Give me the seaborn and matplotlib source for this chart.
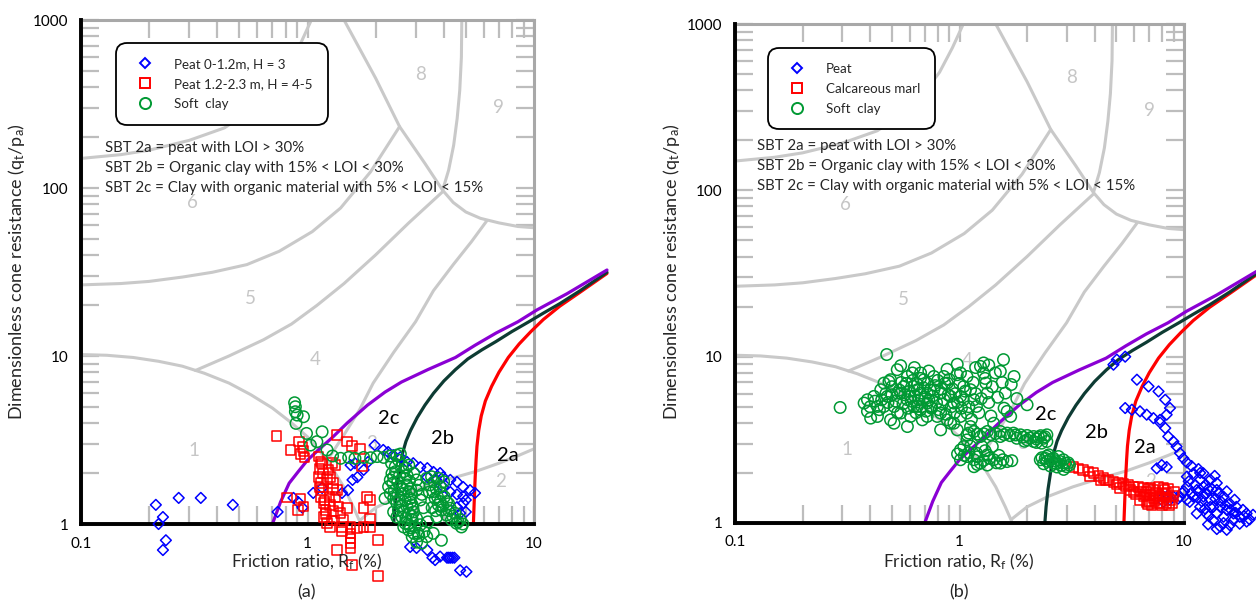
import numpy as np
import matplotlib
matplotlib.use("Agg")
import matplotlib.pyplot as plt
from matplotlib.lines import Line2D
from matplotlib.ticker import FixedLocator, LogLocator, NullFormatter, FuncFormatter
import seaborn as sns

sns.set_theme(style="white")
plt.rcParams["font.family"] = ["Lato", "DejaVu Sans"]
plt.rcParams["mathtext.default"] = "regular"

# ---------------------------------------------------------------------------
# Background SBT chart (Robertson, non-normalised): zone boundaries (Rf %, qt/pa)
zone1_rf = [0.1, 0.13, 0.17, 0.22, 0.28, 0.35, 0.45, 0.56, 0.7, 0.85, 1.0, 1.15, 1.3, 1.45, 1.6, 1.72]
zone1_q = [10.2, 10.1, 9.8, 9.3, 8.7, 7.9, 6.9, 5.9, 4.9, 4.0, 3.3, 2.65, 2.1, 1.65, 1.25, 1.0]
zone2_rf = [1.7, 2.0, 2.5, 3.2, 4.2, 5.5, 7.0, 8.5, 10.0]
zone2_q = [1.05, 1.25, 1.45, 1.65, 1.85, 2.05, 2.3, 2.55, 2.8]
b34_rf = [1.25, 1.45, 1.7, 1.95, 2.4, 3.0, 3.6, 4.4, 5.3, 6.2]
b34_q = [2.5, 3.4, 4.8, 6.9, 10.5, 16.0, 24.5, 35.0, 48.0, 64.0]
b45_rf = [0.32, 0.45, 0.64, 0.85, 1.1, 1.45, 2.0, 2.8, 3.95]
b45_q = [8.2, 10.0, 12.5, 15.5, 20.0, 27.0, 40.0, 62.0, 95.0]
b56_rf = [0.1, 0.15, 0.2, 0.28, 0.38, 0.54, 0.75, 1.05, 1.4, 1.9, 2.55]
b56_q = [26.5, 27.0, 27.8, 29.5, 31.5, 35.0, 42.0, 55.0, 76.0, 125.0, 232.0]
b67_rf = [0.1, 0.15, 0.2, 0.3, 0.43, 0.55, 0.68, 0.815, 0.93, 1.04]
b67_q = [150.0, 158.0, 168.0, 192.0, 228.0, 285.0, 370.0, 513.0, 720.0, 1000.0]
b8_rf = [1.45, 2.0, 2.55, 3.3, 3.95, 4.4, 5.0, 5.8, 7.0, 8.5, 10.0]
b8_q = [1000.0, 450.0, 232.0, 140.0, 97.0, 82.0, 72.0, 66.0, 62.0, 59.0, 58.0]
b89_rf = [4.8, 4.78, 4.7, 4.58, 4.42, 4.2, 3.95]
b89_q = [1000.0, 600.0, 380.0, 260.0, 180.0, 128.0, 97.0]

zone_names = ["1", "2", "3", "4", "5", "6", "8", "9"]
zone_rf = [0.315, 7.1, 1.92, 1.08, 0.56, 0.31, 3.15, 7.0]
zone_q = [2.75, 1.78, 3.0, 9.5, 22.0, 82.0, 475.0, 300.0]

# Organic-soil sub-zone boundaries 2a / 2b / 2c
sbt2c_rf = [0.70, 0.76, 0.83, 0.91, 1.0, 1.13, 1.28, 1.5, 1.84, 2.2, 2.6, 3.4, 4.5, 5.5, 6.8, 8.5, 10.3, 14.0, 21.0]
sbt2c_q = [1.0, 1.35, 1.75, 2.05, 2.4, 2.8, 3.25, 4.0, 5.1, 6.1, 7.0, 8.3, 9.8, 11.6, 13.7, 16.0, 18.8, 23.5, 32.5]
sbt2b_rf = [2.40, 2.43, 2.48, 2.55, 2.62, 2.72, 2.85, 3.05, 3.3, 3.6, 4.0, 4.5, 5.1, 5.9, 6.8, 8.0, 9.5, 11.0, 13.0, 16.0, 21.0]
sbt2b_q = [1.0, 1.25, 1.6, 2.05, 2.6, 3.1, 3.6, 4.3, 5.1, 6.0, 7.1, 8.3, 9.6, 10.9, 12.2, 14.0, 16.0, 18.0, 20.5, 24.5, 31.5]
sbt2a_rf = [5.4, 5.45, 5.5, 5.55, 5.6, 5.7, 5.85, 6.1, 6.5, 7.0, 7.7, 8.6, 9.7, 11.0, 13.0, 16.0, 21.0]
sbt2a_q = [1.0, 1.4, 1.9, 2.4, 2.9, 3.6, 4.4, 5.4, 6.6, 8.0, 9.8, 11.8, 14.0, 16.5, 19.8, 24.0, 31.0]

sub_labels = ["2c", "2b", "2a"]
sub_rf_a = [2.28, 3.93, 7.67]
sub_q_a = [4.27, 3.25, 2.57]
sub_rf_b = [2.41, 4.06, 6.7]
sub_q_b = [4.47, 3.48, 2.83]

sbt_notes = ["SBT 2a = peat with LOI > 30%",
             "SBT 2b = Organic clay with 15% < LOI < 30%",
             "SBT 2c = Clay with organic material with 5% < LOI < 15%"]

# ---------------------------------------------------------------------------
# (a) CPT data: (Rf %, qt/pa)
peat_top_a = [
    (0.214, 1.30), (0.23, 1.10), (0.22, 1.0), (0.237, 0.80), (0.23, 0.70), (0.27, 1.43),
    (0.338, 1.43), (0.468, 1.30), (0.738, 1.18), (0.867, 1.43), (0.95, 1.25), (0.91, 1.35),
    (1.06, 1.53), (1.16, 1.64), (1.42, 1.53), (1.51, 1.59), (1.58, 1.83), (1.66, 1.90),
    (1.55, 2.24), (1.62, 2.30), (1.77, 2.10), (1.85, 2.34), (1.98, 2.95), (2.16, 2.76),
    (2.27, 2.68), (2.39, 2.57), (2.57, 2.50), (2.75, 2.34), (2.93, 2.30), (3.15, 2.18),
    (3.38, 2.15), (3.60, 2.04), (3.85, 2.01), (3.97, 1.90), (4.27, 1.83), (4.57, 1.78),
    (4.87, 1.66), (5.22, 1.59), (5.49, 1.53), (3.38, 1.90), (3.70, 1.83), (3.97, 1.66),
    (4.27, 1.55), (4.57, 1.50), (4.87, 1.46), (5.0, 1.39), (4.87, 1.33), (4.57, 1.26),
    (5.0, 1.18), (4.72, 1.16), (2.84, 0.73), (3.03, 0.72), (3.38, 0.70), (3.56, 0.63),
    (3.66, 0.61), (3.85, 0.64), (4.13, 0.63), (4.20, 0.63), (4.27, 0.63), (4.36, 0.63),
    (4.45, 0.63), (4.72, 0.53), (5.03, 0.52)]
peat_deep_a = [
    (0.73, 3.34), (0.84, 2.76), (0.92, 3.09), (0.95, 2.88), (0.96, 2.73), (0.93, 2.61),
    (0.97, 2.49), (1.12, 2.52), (1.16, 2.29), (1.13, 2.12), (1.12, 1.91), (1.15, 1.75),
    (1.16, 1.59), (1.14, 1.45), (1.18, 1.33), (1.20, 1.21), (1.18, 1.10), (1.22, 1.01),
    (1.26, 0.96), (1.24, 2.10), (1.26, 1.91), (1.25, 1.45), (1.26, 1.30), (1.35, 3.39),
    (1.49, 3.09), (1.57, 2.91), (1.33, 2.24), (1.30, 1.75), (1.35, 1.59), (1.33, 1.45),
    (1.37, 1.27), (1.40, 1.16), (1.44, 1.06), (1.42, 0.96), (1.55, 0.96), (1.65, 0.94),
    (1.77, 0.96), (1.89, 0.96), (1.89, 1.39), (1.83, 1.45), (1.77, 1.24), (1.55, 0.88),
    (1.55, 0.82), (1.55, 0.77), (1.55, 0.72), (1.35, 0.70), (1.57, 0.57), (2.05, 0.80),
    (1.89, 1.08), (2.05, 0.49), (1.74, 2.21), (0.93, 1.42), (0.81, 1.44), (0.91, 1.21),
    (0.96, 1.27), (1.49, 1.24), (1.42, 0.90), (1.71, 2.80), (1.14, 2.35), (1.17, 2.00),
    (1.13, 1.65), (1.19, 1.38), (1.21, 1.15), (1.28, 1.05), (1.30, 1.20), (1.30, 1.62),
    (1.22, 1.85), (1.28, 2.30)]
clay_a = [
    (0.877, 5.27), (0.884, 4.99), (0.884, 4.66), (0.90, 4.45), (0.96, 4.35), (0.89, 3.97),
    (0.99, 3.46), (1.16, 3.54), (1.10, 3.09), (1.03, 2.95), (1.22, 2.76), (1.29, 2.54),
    (1.40, 2.46), (1.52, 2.49), (1.62, 2.46), (1.77, 2.49), (1.90, 2.48), (2.03, 2.52),
    (2.17, 2.49), (2.32, 2.54), (2.48, 2.57), (2.57, 2.61), (2.52, 2.40), (2.44, 2.19),
    (2.36, 2.0), (2.32, 1.83), (2.28, 1.67), (2.32, 1.52), (2.40, 1.42), (2.48, 1.33),
    (2.52, 1.21), (2.61, 1.10), (2.70, 1.01), (2.80, 0.92), (2.90, 0.84), (3.03, 0.78),
    (3.19, 0.77), (3.36, 0.84), (3.27, 0.90), (3.15, 0.99), (3.03, 1.08), (2.94, 1.18),
    (2.90, 1.30), (2.84, 1.42), (2.80, 1.56), (2.75, 1.71), (2.70, 1.87), (2.66, 2.05),
    (2.61, 2.24), (2.80, 2.24), (2.94, 2.0), (3.03, 1.83), (2.57, 1.67), (2.66, 1.52),
    (2.70, 1.39), (2.75, 1.27), (2.80, 1.16), (2.90, 1.06), (2.98, 0.96), (3.08, 0.88),
    (2.40, 1.18), (2.48, 1.10), (2.20, 1.42), (2.66, 0.96), (3.59, 0.88), (3.90, 0.80),
    (3.03, 1.59), (3.15, 1.39), (3.36, 1.87), (3.53, 1.91), (3.78, 1.87), (3.99, 1.79),
    (3.48, 1.71), (3.59, 1.56), (3.66, 1.42), (3.78, 1.30), (3.90, 1.21), (4.11, 1.13),
    (4.32, 1.06), (4.55, 1.01), (4.78, 0.96), (3.90, 1.52), (4.11, 1.36), (4.27, 1.24),
    (4.48, 1.16), (4.72, 1.06), (3.85, 1.67), (3.72, 1.10), (2.35, 2.30), (2.45, 2.05),
    (2.40, 1.90), (2.38, 1.75), (2.42, 1.58), (2.50, 1.48), (2.55, 1.38), (2.60, 1.28),
    (2.64, 1.18), (2.72, 1.08), (2.78, 1.00), (2.85, 0.95), (2.95, 0.88), (3.10, 0.85),
    (2.88, 1.12), (2.92, 1.24), (2.85, 1.35), (2.88, 1.50), (2.85, 1.62), (2.82, 1.80),
    (2.75, 1.95), (2.72, 2.15), (2.55, 1.95), (2.50, 1.78), (2.62, 1.62), (3.10, 1.70),
    (3.20, 1.50), (3.25, 1.25), (3.40, 1.03), (3.45, 1.55), (3.62, 1.78), (3.70, 1.62),
    (3.75, 1.45), (3.85, 1.36), (3.95, 1.28), (4.02, 1.45), (4.20, 1.20), (4.38, 1.11),
    (4.62, 1.03), (4.85, 1.00), (4.20, 1.32), (3.55, 1.25), (3.68, 1.20)]

# (b) CPT data: (Rf %, qt/pa)
peat_b = [
    (5.02, 9.6), (4.85, 8.95), (5.47, 10.0), (6.17, 7.27), (6.95, 6.62), (7.70, 6.18),
    (8.25, 5.51), (8.66, 4.91), (8.37, 4.48), (7.82, 4.17), (5.47, 4.91), (5.86, 4.80),
    (6.37, 4.69), (6.82, 4.48), (7.31, 4.27), (7.82, 4.02), (8.25, 3.72), (8.51, 3.31),
    (8.97, 3.09), (9.27, 2.88), (9.60, 2.63), (9.93, 2.45), (10.3, 2.31), (10.8, 2.20),
    (11.6, 2.11), (7.56, 2.13), (7.96, 2.23), (8.37, 2.17), (9.60, 1.44), (10.3, 1.90),
    (11.0, 1.99), (11.8, 1.82), (12.2, 1.65), (12.6, 1.51), (13.1, 1.38), (11.8, 1.25),
    (11.4, 1.14), (12.6, 1.14), (13.5, 1.25), (14.5, 1.25), (15.5, 1.20), (16.6, 1.14),
    (17.7, 1.09), (19.0, 1.14), (20.3, 1.12), (13.5, 1.04), (14.5, 0.95), (15.5, 0.91),
    (14.0, 1.58), (15.0, 1.44), (16.0, 1.31), (11.0, 1.44), (10.6, 1.34), (10.3, 1.65),
    (13.1, 1.82), (14.0, 1.74), (12.2, 1.99), (11.4, 1.58), (12.2, 1.44), (13.1, 1.25),
    (14.0, 1.14), (15.0, 1.09), (16.6, 1.04), (17.7, 0.99), (19.0, 1.02), (17.1, 1.25),
    (18.3, 1.20), (8.1, 1.44), (8.5, 1.47), (8.97, 1.44), (8.1, 1.34), (8.66, 1.38),
    (10.3, 1.38), (11.2, 1.70), (11.6, 1.55), (12.0, 1.35), (12.4, 1.22), (12.9, 1.10),
    (13.8, 1.40), (14.6, 1.35), (15.3, 1.28), (16.2, 1.20), (17.0, 1.15), (18.5, 1.10),
    (19.6, 1.05), (13.3, 1.60), (14.3, 1.50), (15.5, 1.55), (16.8, 1.38), (12.8, 0.98),
    (14.0, 0.92), (15.0, 1.00), (16.0, 0.97), (10.8, 1.52), (11.5, 1.42), (12.5, 1.70),
    (13.7, 1.92), (10.0, 1.55), (10.5, 1.78), (9.4, 1.40), (9.8, 1.52), (11.8, 2.00),
    (12.8, 1.60)]
marl_b = [
    (3.22, 2.18), (3.39, 2.13), (3.56, 2.09), (3.75, 2.04), (3.95, 1.99), (4.16, 1.92),
    (4.38, 1.86), (4.61, 1.82), (4.85, 1.77), (5.11, 1.75), (5.38, 1.72), (5.66, 1.69),
    (5.96, 1.66), (6.27, 1.64), (6.60, 1.62), (6.95, 1.60), (7.31, 1.58), (7.70, 1.66),
    (8.1, 1.62), (8.37, 1.51), (8.97, 1.45), (6.60, 1.44), (6.82, 1.34), (7.17, 1.28),
    (7.56, 1.31), (7.96, 1.28), (8.37, 1.31), (6.37, 1.38), (7.06, 1.47), (7.31, 1.41),
    (8.66, 1.38), (7.82, 1.44), (5.20, 1.62), (5.75, 1.58), (4.24, 1.82), (3.82, 1.90),
    (5.96, 1.54), (6.82, 1.54), (6.1, 1.50), (6.45, 1.55), (6.7, 1.48), (7.0, 1.36),
    (7.4, 1.36), (7.7, 1.40), (8.0, 1.50), (8.3, 1.42), (8.6, 1.28), (8.9, 1.32),
    (9.0, 1.55), (7.1, 1.62), (7.5, 1.52), (8.2, 1.58), (6.9, 1.30), (7.8, 1.32),
    (8.5, 1.60), (4.5, 1.80), (5.0, 1.70), (5.5, 1.66)]
clay_b = [
    (0.294, 4.95), (0.474, 10.3), (0.376, 5.26), (0.389, 4.69), (0.402, 4.27), (0.416, 5.77),
    (0.446, 6.33), (0.461, 5.02), (0.485, 7.10), (0.493, 4.17), (0.528, 8.35), (0.547, 8.83),
    (0.528, 6.04), (0.565, 6.62), (0.586, 5.51), (0.586, 3.80), (0.617, 7.98), (0.627, 6.62),
    (0.649, 5.02), (0.671, 6.04), (0.683, 4.17), (0.694, 7.27), (0.718, 5.26), (0.769, 7.60),
    (0.769, 6.33), (0.796, 4.37), (0.824, 3.63), (0.852, 5.51), (0.882, 6.94), (0.912, 3.98),
    (0.944, 5.26), (0.977, 7.79), (1.01, 7.98), (1.045, 6.62), (1.08, 7.60), (1.08, 4.58),
    (1.12, 3.80), (1.16, 5.51), (1.24, 8.74), (1.28, 7.98), (1.31, 6.94), (1.33, 6.04),
    (1.42, 3.98), (1.445, 7.98), (1.52, 8.16), (1.60, 6.04), (1.63, 4.69), (1.69, 4.37),
    (2.0, 5.14), (1.57, 9.6), (1.28, 9.17), (0.977, 9.0), (0.431, 5.02), (0.477, 5.77),
    (0.511, 5.02), (0.547, 4.58), (0.605, 4.37), (0.627, 5.02), (0.671, 4.80), (0.718, 4.37),
    (0.743, 5.02), (0.824, 4.58), (0.882, 4.17), (0.944, 3.98), (1.01, 4.37), (0.547, 6.04),
    (0.605, 5.77), (0.649, 6.33), (0.718, 6.04), (0.824, 6.04), (0.912, 5.77), (1.01, 5.77),
    (1.12, 6.33), (1.19, 5.02), (0.493, 7.27), (0.586, 7.60), (0.671, 7.98), (0.852, 7.60),
    (0.461, 6.94), (0.389, 5.51), (0.431, 4.37), (0.511, 3.98), (0.977, 3.63), (1.16, 3.55),
    (1.33, 3.55), (1.52, 3.55), (1.63, 3.47), (1.74, 3.47), (1.87, 3.39), (2.0, 3.36),
    (2.14, 3.31), (2.25, 3.28), (2.37, 3.23), (2.45, 3.39), (2.45, 3.09), (2.32, 3.02),
    (2.14, 3.09), (2.0, 3.16), (1.80, 3.23), (1.52, 3.31), (1.24, 3.31), (1.08, 3.39),
    (1.01, 2.75), (1.08, 2.51), (1.16, 2.40), (1.24, 2.29), (1.33, 2.23), (1.42, 2.40),
    (1.52, 2.29), (1.63, 2.34), (1.71, 2.37), (1.19, 2.63), (1.26, 2.88), (1.40, 2.88),
    (1.045, 2.88), (1.01, 2.40), (1.16, 2.18), (1.33, 2.57), (1.08, 3.16), (2.29, 2.40),
    (2.41, 2.45), (2.54, 2.40), (2.67, 2.37), (2.81, 2.34), (2.96, 2.29), (3.09, 2.23),
    (2.37, 2.27), (2.54, 2.20), (2.72, 2.17), (2.91, 2.10), (2.50, 2.57), (2.76, 2.51),
    (0.40, 5.0), (0.42, 5.4), (0.44, 4.8), (0.45, 5.5), (0.47, 6.0), (0.48, 5.3),
    (0.50, 5.9), (0.50, 6.6), (0.52, 5.4), (0.53, 4.6), (0.54, 6.3), (0.55, 7.0),
    (0.56, 5.2), (0.57, 5.9), (0.58, 6.9), (0.59, 4.9), (0.60, 6.2), (0.61, 5.4),
    (0.62, 7.2), (0.63, 5.8), (0.64, 4.6), (0.65, 6.8), (0.66, 5.5), (0.67, 7.4),
    (0.68, 5.0), (0.69, 6.5), (0.70, 5.7), (0.71, 4.7), (0.72, 6.9), (0.73, 5.5),
    (0.74, 6.3), (0.75, 4.9), (0.76, 5.8), (0.78, 6.7), (0.79, 5.3), (0.80, 7.2),
    (0.81, 4.8), (0.83, 6.4), (0.84, 5.2), (0.86, 6.9), (0.87, 4.5), (0.89, 5.9),
    (0.90, 7.3), (0.92, 5.0), (0.93, 6.4), (0.95, 4.6), (0.96, 6.0), (0.98, 5.3),
    (1.00, 6.9), (1.02, 4.9), (1.04, 5.5), (1.06, 6.2), (1.10, 5.0), (1.13, 4.2),
    (1.15, 7.0), (1.18, 6.0), (1.22, 4.6), (1.25, 5.6), (1.30, 7.4), (1.35, 5.3),
    (1.38, 4.4), (1.40, 6.6), (1.48, 5.7), (1.55, 7.0), (1.58, 4.9), (1.70, 6.8),
    (1.75, 7.6), (1.80, 5.6), (0.63, 8.6), (0.73, 8.2), (0.88, 8.4), (1.18, 8.6),
    (1.35, 8.9), (1.10, 3.47), (1.20, 3.42), (1.28, 3.44), (1.38, 3.40), (1.45, 3.45),
    (1.58, 3.40), (1.68, 3.35), (1.78, 3.38), (1.92, 3.28), (2.06, 3.25), (2.20, 3.20),
    (2.30, 3.35), (2.40, 3.30), (2.20, 3.05), (1.95, 3.10), (1.10, 2.65), (1.20, 2.50),
    (1.28, 2.38), (1.36, 2.45), (1.46, 2.30), (1.56, 2.40), (1.20, 2.25), (1.05, 2.55),
    (0.98, 2.60), (1.12, 2.90), (1.30, 2.72), (1.50, 2.55), (2.33, 2.47), (2.45, 2.35),
    (2.60, 2.30), (2.70, 2.27), (2.85, 2.22), (3.00, 2.18), (2.45, 2.52), (2.62, 2.45),
    (2.90, 2.40), (3.05, 2.30)]

legend_a = ["Peat 0-1.2m, H = 3", "Peat 1.2-2.3 m, H = 4-5", "Soft  clay"]
legend_b = ["Peat", "Calcareous marl", "Soft  clay"]

BLUE, RED, GREEN = "#0000ff", "#ff0000", "#009933"
GREY_LINE, GREY_TXT = "#c9c9c9", "#c6c6c6"
PURPLE, DARK, RED_LINE = "#8a00d4", "#0d3b33", "#ff0000"

W, H = 1256, 604
fig = plt.figure(figsize=(W / 100, H / 100), dpi=100)


def px_rect(left, right, top, bottom):
    return [left / W, 1 - bottom / H, (right - left) / W, (bottom - top) / H]


def fig_text(x, y, s, **kw):
    fig.text(x / W, 1 - y / H, s, **kw)


def draw_panel(rect, series, labels, sub_rf, sub_q, leg_anchor):
    bg = fig.add_axes(rect)
    ax = fig.add_axes(rect, sharex=bg, sharey=bg)
    for a in (bg, ax):
        a.set_xscale("log")
        a.set_yscale("log")
    ax.set_xlim(0.1, 10)
    ax.set_ylim(1, 1000)

    # background chart frame and ticks (grey)
    bg.set_facecolor("white")
    for s in bg.spines.values():
        s.set_color("#a8a8a8")
        s.set_linewidth(2.2)
    bg.tick_params(which="both", direction="in", length=13, width=1.6, color="#bdbdbd",
                   top=True, right=True, left=True, bottom=True,
                   labelleft=False, labelbottom=False)
    for rf, q in [(zone1_rf, zone1_q), (zone2_rf, zone2_q), (b34_rf, b34_q), (b45_rf, b45_q),
                  (b56_rf, b56_q), (b67_rf, b67_q), (b8_rf, b8_q), (b89_rf, b89_q)]:
        sns.lineplot(x=rf, y=q, ax=bg, color=GREY_LINE, lw=2.2, sort=False, estimator=None)
    for name, rf, q in zip(zone_names, zone_rf, zone_q):
        bg.text(rf, q, name, color=GREY_TXT, fontsize=13.5, ha="center", va="center")

    # main axes (black left / bottom frame)
    ax.patch.set_visible(False)
    ax.spines["top"].set_visible(False)
    ax.spines["right"].set_visible(False)
    for side in ("left", "bottom"):
        ax.spines[side].set_color("black")
        ax.spines[side].set_linewidth(2.8)
    ax.xaxis.set_major_locator(FixedLocator([0.1, 1, 10]))
    ax.yaxis.set_major_locator(FixedLocator([1, 10, 100, 1000]))
    ax.xaxis.set_minor_locator(LogLocator(base=10, subs=np.arange(2, 10)))
    ax.yaxis.set_minor_locator(LogLocator(base=10, subs=np.arange(2, 10)))
    fmt = FuncFormatter(lambda v, _: f"{v:g}")
    ax.xaxis.set_major_formatter(fmt)
    ax.yaxis.set_major_formatter(fmt)
    ax.xaxis.set_minor_formatter(NullFormatter())
    ax.yaxis.set_minor_formatter(NullFormatter())
    ax.tick_params(which="major", direction="in", length=9, width=2.4, color="black",
                   labelsize=11, pad=9, labelcolor="black")
    ax.tick_params(which="minor", direction="in", length=5, width=2.0, color="black")
    ax.set_xlabel("")
    ax.set_ylabel("")

    # organic sub-zone boundaries
    for rf, q, c in [(sbt2a_rf, sbt2a_q, RED_LINE), (sbt2b_rf, sbt2b_q, DARK), (sbt2c_rf, sbt2c_q, PURPLE)]:
        sns.lineplot(x=rf, y=q, ax=ax, color=c, lw=2.3, sort=False, estimator=None)
    for ln in ax.lines:
        ln.set_clip_on(False)
    for name, rf, q in zip(sub_labels, sub_rf, sub_q):
        ax.text(rf, q, name, fontsize=14.5, ha="center", va="center", color="black")

    # data
    styles = [("D", BLUE, 30), ("s", RED, 48), ("o", GREEN, 68)]
    for i in [1, 0, 2]:
        pts = np.array(series[i])
        m, c, s = styles[i]
        sns.scatterplot(x=pts[:, 0], y=pts[:, 1], ax=ax, marker=m, s=s, facecolors="none",
                        edgecolor=c, linewidth=1.1, clip_on=False, zorder=5 + i, legend=False)
    ax.set_xlim(0.1, 10)
    ax.set_ylim(1, 1000)

    handles = [Line2D([], [], ls="none", marker=m, ms=ms, mfc="none", mec=c, mew=1.4)
               for (m, c, _), ms in zip(styles, [5.6, 6.6, 8.0])]
    leg = ax.legend(handles, labels, loc="upper left", bbox_to_anchor=leg_anchor,
                    borderaxespad=0, frameon=True, fancybox=True, fontsize=9.6,
                    borderpad=1.1, handlelength=2.1, handletextpad=1.15, labelspacing=0.6)
    fr = leg.get_frame()
    fr.set_edgecolor("black")
    fr.set_linewidth(1.3)
    fr.set_alpha(1)
    fr.set_facecolor("white")
    fr.set_boxstyle("round", pad=0, rounding_size=0.8)
    leg.set_zorder(20)
    return ax


ax_a = draw_panel(px_rect(81, 534, 20, 524), [peat_top_a, peat_deep_a, clay_a], legend_a,
                  sub_rf_a, sub_q_a, (0.078, 0.954))
ax_b = draw_panel(px_rect(735, 1184, 24, 523), [peat_b, marl_b, clay_b], legend_b,
                  sub_rf_b, sub_q_b, (0.0735, 0.952))

ylab = "Dimensionless cone resistance (q$_t$/p$_a$)"
xlab = "Friction ratio, R$_f$ (%)"
for x0, xc, tag, ytop in [(105, 307, "(a)", 148), (757, 959, "(b)", 146)]:
    for k, note in enumerate(sbt_notes):
        fig_text(x0, ytop + 20 * k, note, fontsize=10.8, ha="left", va="center")
    fig_text(xc, 562, xlab, fontsize=12.5, ha="center", va="center")
    fig_text(xc, 592, tag, fontsize=13, ha="center", va="center")
fig_text(17, 272, ylab, fontsize=13, ha="center", va="center", rotation=90)
fig_text(671, 272, ylab, fontsize=13, ha="center", va="center", rotation=90)

fig.savefig("out.png", dpi=100)
